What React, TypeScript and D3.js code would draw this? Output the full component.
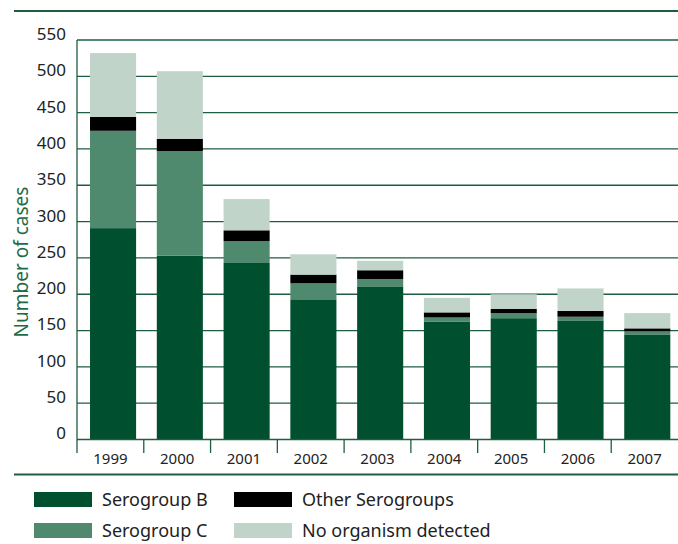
import React from "react";
import * as d3 from "d3";

const years = ["1999", "2000", "2001", "2002", "2003", "2004", "2005", "2006", "2007"];
const serogroupB = [291, 253, 243, 193, 210, 162, 167, 164, 144];
const serogroupC = [134, 144, 30, 22, 11, 6, 7, 5, 5];
const otherSerogroups = [19, 17, 15, 12, 12, 7, 6, 8, 4];
const noOrganism = [88, 93, 43, 28, 13, 20, 20, 31, 21];
const yTicks = [0, 50, 100, 150, 200, 250, 300, 350, 400, 450, 500, 550];

const seriesNames = ["Serogroup B", "Serogroup C", "Other Serogroups", "No organism detected"];
const seriesColors = ["#00502f", "#4f8a6e", "#000000", "#c0d4ca"];
const LINE = "#1e5e40";
const FONT = "'Noto Sans', sans-serif";

export default function App() {
  const W = 678, H = 544;
  const left = 77, right = 678, top = 40, bottom = 439.5;
  const x = d3.scaleBand<string>().domain(years).range([left, right]).padding(0);
  const y = d3.scaleLinear().domain([0, 550]).range([bottom, top]);

  const rows = years.map((yr, i) => ({
    year: yr,
    b: serogroupB[i],
    c: serogroupC[i],
    o: otherSerogroups[i],
    n: noOrganism[i],
  }));
  const stack = d3.stack<any>().keys(["b", "c", "o", "n"]);
  const layers = stack(rows);
  const bw = x.bandwidth();
  const barW = bw * 0.69;
  const barOff = bw * 0.195;

  return (
    <svg width={W} height={H} style={{ position: "absolute", left: 0, top: 0 }}>
      <rect width={W} height={H} fill="#fff" />
      <line x1={14} x2={678} y1={11} y2={11} stroke={LINE} strokeWidth={2} />
      {yTicks.filter((t) => t > 0).map((t) => (
        <line key={t} x1={left} x2={right} y1={y(t)} y2={y(t)} stroke={LINE} strokeWidth={1.3} />
      ))}
      {layers.map((layer, li) => (
        <g key={li} fill={seriesColors[li]}>
          {layer.map((d: any, i: number) => (
            <rect
              key={i}
              x={(x(years[i]) as number) + barOff}
              y={y(d[1])}
              width={barW}
              height={y(d[0]) - y(d[1])}
            />
          ))}
        </g>
      ))}
      <line x1={left} x2={left} y1={top} y2={453} stroke={LINE} strokeWidth={1.3} />
      <line x1={left} x2={right} y1={bottom} y2={bottom} stroke={LINE} strokeWidth={1.3} />
      {years.slice(1).map((yr) => (
        <line key={yr} x1={x(yr)} x2={x(yr)} y1={bottom} y2={453} stroke={LINE} strokeWidth={1.3} />
      ))}
      {yTicks.map((t) => (
        <text key={t} x={66} y={y(t) - 6} dy="0.35em" textAnchor="end" fontFamily={FONT} fontSize={17} fill="#222">
          {t}
        </text>
      ))}
      {years.map((yr) => (
        <text key={yr} x={(x(yr) as number) + bw / 2} y={464} textAnchor="middle" fontFamily={FONT} fontSize={15} fill="#222">
          {yr}
        </text>
      ))}
      <text
        transform={`translate(28,262) rotate(-90)`}
        textAnchor="middle"
        fontFamily={FONT}
        fontSize={19}
        fill="#1e6b45"
      >
        Number of cases
      </text>
      <line x1={14} x2={678} y1={474.5} y2={474.5} stroke={LINE} strokeWidth={2} />
      {seriesNames.map((name, i) => {
        const col = Math.floor(i / 2);
        const row = i % 2;
        const sx = col === 0 ? 34 : 234;
        const sy = row === 0 ? 492 : 523;
        return (
          <g key={name}>
            <rect x={sx} y={sy} width={58} height={15} fill={seriesColors[i]} />
            <text x={sx + 68} y={sy + 14} fontFamily={FONT} fontSize={18} fill="#222">
              {name}
            </text>
          </g>
        );
      })}
    </svg>
  );
}
